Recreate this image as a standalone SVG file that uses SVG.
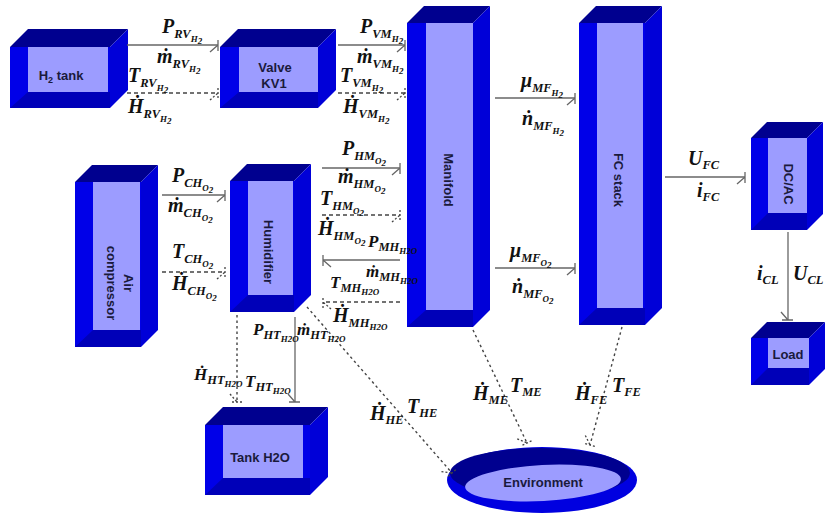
<svg xmlns="http://www.w3.org/2000/svg" width="825" height="513" viewBox="0 0 825 513">
<style>
.top{fill:#00008f}
.side{fill:#0000d8}
.front{fill:#0000e8}
.bot{fill:#0000b8}
.inner{fill:#9c9cff}
.bl{font-family:"Liberation Sans","DejaVu Sans",sans-serif;font-weight:bold;font-size:13px;fill:#1a1a3c;text-anchor:middle}
.v{font-family:"Liberation Serif","DejaVu Serif",serif;font-weight:bold;font-style:italic;font-size:20px;fill:#111}
.vs{font-family:"Liberation Serif","DejaVu Serif",serif;font-weight:bold;font-style:italic;font-size:17px;fill:#111}
.s1{font-size:12.5px}
.s2{font-size:9px}
.sol{fill:none;stroke:#666;stroke-width:1.3}
.dsh{fill:none;stroke:#444;stroke-width:1.3;stroke-dasharray:4,3}
.dot{fill:none;stroke:#444;stroke-width:1.4;stroke-dasharray:2.5,3}
</style>
<defs>
<marker id="sa" markerUnits="userSpaceOnUse" orient="auto" refX="0" refY="0" markerWidth="20" markerHeight="20" viewBox="-10 -10 20 20" overflow="visible">
<path d="M0,-5V6M-8,7L0,0" fill="none" stroke="#666" stroke-width="1.3"/>
</marker>
<marker id="sb" markerUnits="userSpaceOnUse" orient="auto" refX="0" refY="0" markerWidth="20" markerHeight="20" viewBox="-10 -10 20 20" overflow="visible">
<path d="M0,-6V5M-8,-7L0,0" fill="none" stroke="#666" stroke-width="1.3"/>
</marker>
<marker id="da" markerUnits="userSpaceOnUse" orient="auto" refX="0" refY="0" markerWidth="20" markerHeight="20" viewBox="-10 -10 20 20" overflow="visible">
<path d="M0,-5V6M-8,7L0,0" fill="none" stroke="#444" stroke-width="1.3" stroke-dasharray="2,2"/>
</marker>
<marker id="db" markerUnits="userSpaceOnUse" orient="auto" refX="0" refY="0" markerWidth="20" markerHeight="20" viewBox="-10 -10 20 20" overflow="visible">
<path d="M0,-6V5M-8,-7L0,0" fill="none" stroke="#444" stroke-width="1.3" stroke-dasharray="2,2"/>
</marker>
</defs>
<rect width="825" height="513" fill="#fff"/>

<g id="h2tank">
<polygon class="top" points="10,47 28,29 128,29 110,47"/>
<polygon class="side" points="110,47 128,29 128,90 110,108"/>
<rect class="front" x="10" y="47" width="100" height="61"/>
<polygon class="bot" points="10,108 28,92 110,92 110,108"/>
<rect class="inner" x="28" y="47" width="80" height="45"/>
<text class="bl" x="61" y="80">H<tspan font-size="9" dy="3">2</tspan><tspan dy="-3"> tank</tspan></text>
</g>

<g id="valve">
<polygon class="top" points="220,47 238,29 336,29 318,47"/>
<polygon class="side" points="318,47 336,29 336,90 318,108"/>
<rect class="front" x="220" y="47" width="98" height="61"/>
<polygon class="bot" points="220,108 239,92 318,92 318,108"/>
<rect class="inner" x="239" y="47" width="79" height="45"/>
<text class="bl" x="275" y="72">Valve</text>
<text class="bl" x="274" y="88">KV1</text>
</g>

<g id="manifold">
<polygon class="top" points="407,23 424,6 490,6 473,23"/>
<polygon class="side" points="473,23 490,6 490,310 473,327"/>
<rect class="front" x="407" y="23" width="66" height="304"/>
<polygon class="bot" points="407,327 426,310 473,310 473,327"/>
<rect class="inner" x="426" y="23" width="47" height="287"/>
<text class="bl" x="448" y="184" transform="rotate(90 448 180)">Manifold</text>
</g>

<g id="fcstack">
<polygon class="top" points="579,23 596,6 662,6 645,23"/>
<polygon class="side" points="645,23 662,6 662,308 645,325"/>
<rect class="front" x="579" y="23" width="66" height="302"/>
<polygon class="bot" points="579,325 597,308 645,308 645,325"/>
<rect class="inner" x="597" y="23" width="46" height="285"/>
<text class="bl" x="618" y="184" transform="rotate(90 618 180)">FC stack</text>
</g>

<g id="dcac">
<polygon class="top" points="751,138 767,122 823,122 807,138"/>
<polygon class="side" points="807,138 823,122 823,214 807,230"/>
<rect class="front" x="751" y="138" width="56" height="92"/>
<polygon class="bot" points="751,230 768,213 807,213 807,230"/>
<rect class="inner" x="768" y="138" width="39" height="75"/>
<text class="bl" x="788" y="188" transform="rotate(90 788 184)">DC/AC</text>
</g>

<g id="load">
<polygon class="top" points="751,338 767,322 825,322 809,338"/>
<polygon class="side" points="809,338 825,322 825,369 809,385"/>
<rect class="front" x="751" y="338" width="58" height="47"/>
<polygon class="bot" points="751,385 768,368 809,368 809,385"/>
<rect class="inner" x="768" y="338" width="41" height="30"/>
<text class="bl" x="788" y="359">Load</text>
</g>

<g id="aircompressor">
<polygon class="top" points="75,182 92,165 158,165 141,182"/>
<polygon class="side" points="141,182 158,165 158,330 141,347"/>
<rect class="front" x="75" y="182" width="66" height="165"/>
<polygon class="bot" points="75,347 93,330 141,330 141,347"/>
<rect class="inner" x="93" y="182" width="47" height="148"/>
<text class="bl" x="128" y="287" transform="rotate(90 128 283)">Air</text>
<text class="bl" x="111" y="287" transform="rotate(90 111 283)">compressor</text>
</g>

<g id="humidifier">
<polygon class="top" points="230,181 247,164 311,164 294,181"/>
<polygon class="side" points="294,181 311,164 311,295 294,312"/>
<rect class="front" x="230" y="181" width="64" height="131"/>
<polygon class="bot" points="230,312 248,295 294,295 294,312"/>
<rect class="inner" x="248" y="181" width="45" height="114"/>
<text class="bl" x="268" y="256" transform="rotate(90 268 252)">Humidifier</text>
</g>

<g id="tankh2o">
<polygon class="top" points="205,425 223,407 328,407 310,425"/>
<polygon class="side" points="310,425 328,407 328,477 310,495"/>
<rect class="front" x="205" y="425" width="105" height="70"/>
<polygon class="bot" points="205,495 223,478 310,478 310,495"/>
<rect class="inner" x="223" y="425" width="80" height="53"/>
<text class="bl" x="260" y="462" font-size="14">Tank H2O</text>
</g>

<g id="environment">
<ellipse cx="542" cy="480" rx="95" ry="33" fill="#0000e0"/>
<ellipse cx="540" cy="473" rx="90" ry="25" fill="#00008f"/>
<ellipse cx="543" cy="483" rx="78" ry="18" fill="#9c9cff" transform="rotate(-3 543 483)"/>
<text class="bl" x="543" y="487" font-size="14">Environment</text>
</g>

<g id="connectors">
<path class="sol" d="M127,45H218" marker-end="url(#sa)"/>
<path class="sol" d="M338,45H405" marker-end="url(#sa)"/>
<path class="sol" d="M495,98H575" marker-end="url(#sa)"/>
<path class="sol" d="M495,268H575" marker-end="url(#sa)"/>
<path class="sol" d="M665,177H745" marker-end="url(#sa)"/>
<path class="sol" d="M788,232V320" marker-end="url(#sa)"/>
<path class="sol" d="M162,195H225" marker-end="url(#sa)"/>
<path class="sol" d="M322,168H400" marker-end="url(#sa)"/>
<path class="sol" d="M400,260H323" marker-end="url(#sb)"/>
<path class="sol" d="M295,317V402" marker-end="url(#sa)"/>
<path class="dsh" d="M127,93H218" marker-end="url(#da)"/>
<path class="dsh" d="M338,93H405" marker-end="url(#da)"/>
<path class="dsh" d="M162,272H225" marker-end="url(#da)"/>
<path class="dsh" d="M322,215H400" marker-end="url(#da)"/>
<path class="dsh" d="M400,302H323" marker-end="url(#db)"/>
<path class="dot" d="M237,315V402" marker-end="url(#da)"/>
<path class="dot" d="M307,307L452,473" marker-end="url(#da)"/>
<path class="dot" d="M473,330L527,443" marker-end="url(#da)"/>
<path class="dot" d="M622,327L590,445" marker-end="url(#da)"/>
</g>

<g id="labels">
<text class="v" x="162" y="33">P<tspan class="s1" dy="5">RV</tspan><tspan class="s2" dy="4">H</tspan><tspan class="s2" dy="2">2</tspan></text>
<text class="v" x="157" y="63">ṁ<tspan class="s1" dy="5">RV</tspan><tspan class="s2" dy="4">H</tspan><tspan class="s2" dy="2">2</tspan></text>
<text class="v" x="128" y="82">T<tspan class="s1" dy="5">RV</tspan><tspan class="s2" dy="4">H</tspan><tspan class="s2" dy="2">2</tspan></text>
<text class="v" x="128" y="113">Ḣ<tspan class="s1" dy="5">RV</tspan><tspan class="s2" dy="4">H</tspan><tspan class="s2" dy="2">2</tspan></text>
<text class="v" x="360" y="33">P<tspan class="s1" dy="5">VM</tspan><tspan class="s2" dy="4">H</tspan><tspan class="s2" dy="2">2</tspan></text>
<text class="v" x="357" y="63">ṁ<tspan class="s1" dy="5">VM</tspan><tspan class="s2" dy="4">H</tspan><tspan class="s2" dy="2">2</tspan></text>
<text class="v" x="340" y="82">T<tspan class="s1" dy="5">VM</tspan><tspan class="s2" dy="4">H</tspan><tspan class="s2" dy="2">2</tspan></text>
<text class="v" x="343" y="113">Ḣ<tspan class="s1" dy="5">VM</tspan><tspan class="s2" dy="4">H</tspan><tspan class="s2" dy="2">2</tspan></text>
<text class="v" x="521" y="87">μ<tspan class="s1" dy="5">MF</tspan><tspan class="s2" dy="4">H</tspan><tspan class="s2" dy="2">2</tspan></text>
<text class="v" x="522" y="125">ṅ<tspan class="s1" dy="5">MF</tspan><tspan class="s2" dy="4">H</tspan><tspan class="s2" dy="2">2</tspan></text>
<text class="v" x="510" y="257">μ<tspan class="s1" dy="5">MF</tspan><tspan class="s2" dy="4">O</tspan><tspan class="s2" dy="2">2</tspan></text>
<text class="v" x="512" y="293">ṅ<tspan class="s1" dy="5">MF</tspan><tspan class="s2" dy="4">O</tspan><tspan class="s2" dy="2">2</tspan></text>
<text class="v" x="688" y="165">U<tspan class="s1" dy="4">FC</tspan></text>
<text class="v" x="697" y="197">i<tspan class="s1" dy="4">FC</tspan></text>
<text class="v" x="757" y="280">i<tspan class="s1" dy="4">CL</tspan></text>
<text class="v" x="793" y="280">U<tspan class="s1" dy="4">CL</tspan></text>
<text class="v" x="172" y="182">P<tspan class="s1" dy="5">CH</tspan><tspan class="s2" dy="4">O</tspan><tspan class="s2" dy="2">2</tspan></text>
<text class="v" x="168" y="212">ṁ<tspan class="s1" dy="5">CH</tspan><tspan class="s2" dy="4">O</tspan><tspan class="s2" dy="2">2</tspan></text>
<text class="v" x="172" y="258">T<tspan class="s1" dy="5">CH</tspan><tspan class="s2" dy="4">O</tspan><tspan class="s2" dy="2">2</tspan></text>
<text class="v" x="172" y="290">Ḣ<tspan class="s1" dy="5">CH</tspan><tspan class="s2" dy="4">O</tspan><tspan class="s2" dy="2">2</tspan></text>
<text class="v" x="342" y="155">P<tspan class="s1" dy="5">HM</tspan><tspan class="s2" dy="4">O</tspan><tspan class="s2" dy="2">2</tspan></text>
<text class="v" x="338" y="183">ṁ<tspan class="s1" dy="5">HM</tspan><tspan class="s2" dy="4">O</tspan><tspan class="s2" dy="2">2</tspan></text>
<text class="v" x="320" y="205">T<tspan class="s1" dy="5">HM</tspan><tspan class="s2" dy="4">O</tspan><tspan class="s2" dy="2">2</tspan></text>
<text class="v" x="318" y="235">Ḣ<tspan class="s1" dy="5">HM</tspan><tspan class="s2" dy="4">O</tspan><tspan class="s2" dy="2">2</tspan></text>
<text class="vs" x="368" y="247">P<tspan class="s1" dy="4">MH</tspan><tspan class="s2" dy="3">H2O</tspan></text>
<text class="vs" x="366" y="277">ṁ<tspan class="s1" dy="4">MH</tspan><tspan class="s2" dy="3">H2O</tspan></text>
<text class="vs" x="330" y="288">T<tspan class="s1" dy="4">MH</tspan><tspan class="s2" dy="3">H2O</tspan></text>
<text class="v" x="333" y="322">Ḣ<tspan class="s1" dy="5">MH</tspan><tspan class="s2" dy="3">H2O</tspan></text>
<text class="vs" x="253" y="335">P<tspan class="s1" dy="4">HT</tspan><tspan class="s2" dy="3">H2O</tspan></text>
<text class="vs" x="297" y="335">ṁ<tspan class="s1" dy="4">HT</tspan><tspan class="s2" dy="3">H2O</tspan></text>
<text class="vs" x="194" y="380">Ḣ<tspan class="s1" dy="4">HT</tspan><tspan class="s2" dy="3">H2O</tspan></text>
<text class="vs" x="245" y="387">T<tspan class="s1" dy="4">HT</tspan><tspan class="s2" dy="3">H2O</tspan></text>
<text class="v" x="370" y="420">Ḣ<tspan class="s1" dy="4">HE</tspan></text>
<text class="v" x="407" y="413">T<tspan class="s1" dy="4">HE</tspan></text>
<text class="v" x="473" y="400">Ḣ<tspan class="s1" dy="4">ME</tspan></text>
<text class="v" x="510" y="392">T<tspan class="s1" dy="4">ME</tspan></text>
<text class="v" x="575" y="400">Ḣ<tspan class="s1" dy="4">FE</tspan></text>
<text class="v" x="612" y="392">T<tspan class="s1" dy="4">FE</tspan></text>
</g>
</svg>
